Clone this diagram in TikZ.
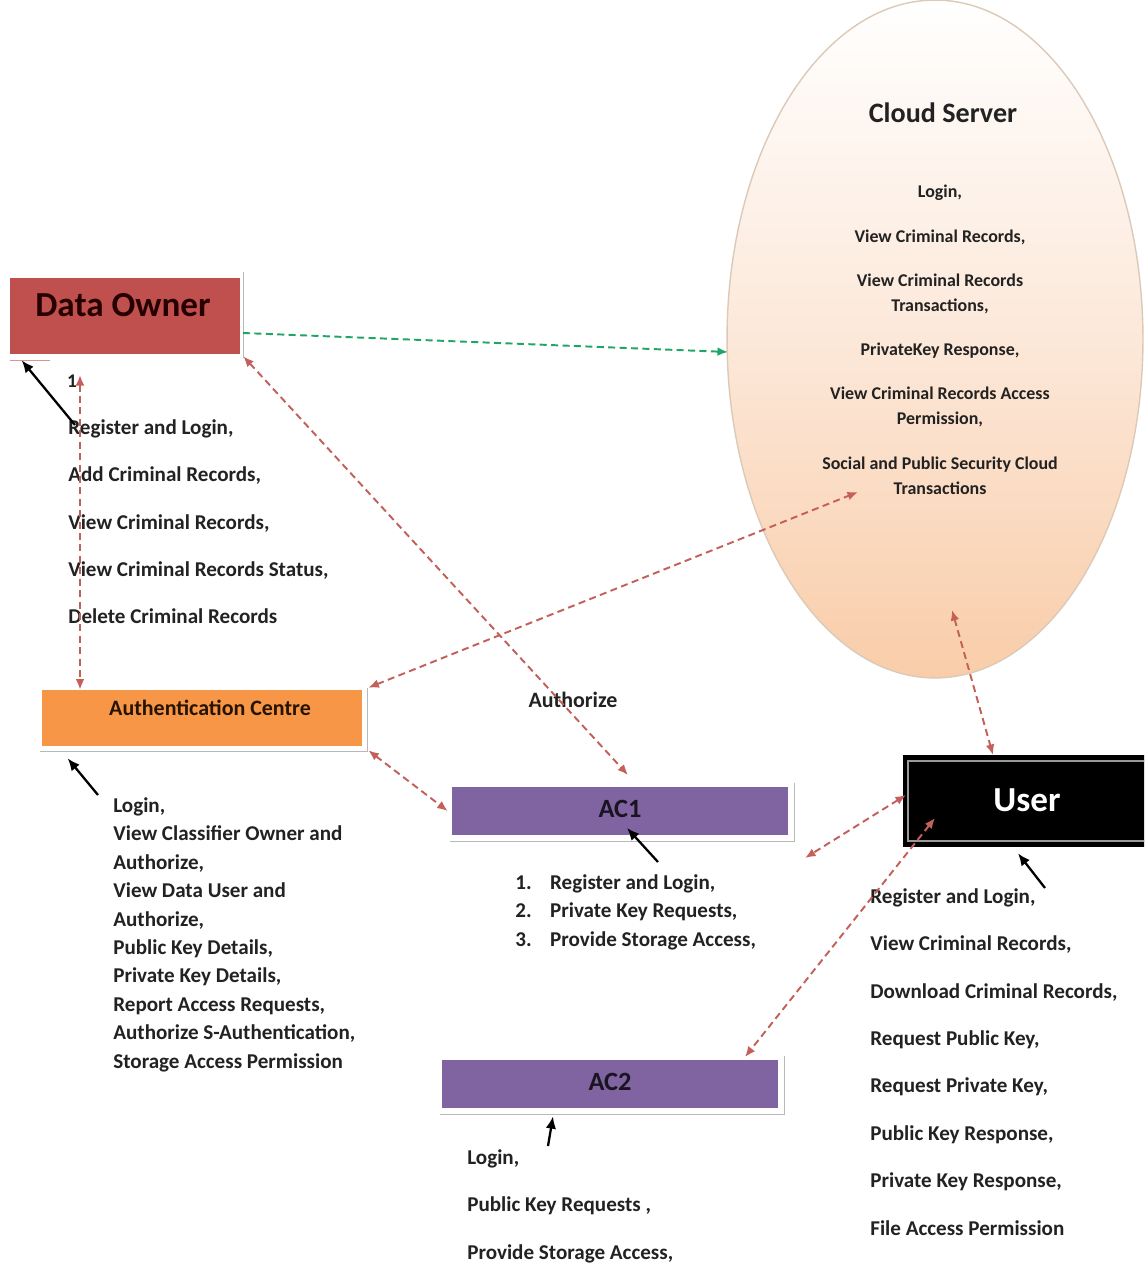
\documentclass[tikz,border=0pt]{standalone}
\usepackage{fontspec}
\setmainfont{Carlito}
\usetikzlibrary{arrows.meta,shapes.geometric,calc}

\definecolor{ownerred}{HTML}{C0504D}
\definecolor{authorange}{HTML}{F79646}
\definecolor{acpurple}{HTML}{8064A2}
\definecolor{linkred}{HTML}{C4605A}
\definecolor{flowgreen}{HTML}{1FA565}
\definecolor{cloudtop}{HTML}{FFFFFF}
\definecolor{cloudmid}{HTML}{FCE8D9}
\definecolor{cloudbot}{HTML}{F9CDA9}
\definecolor{cloudedge}{HTML}{DCCAB8}
\definecolor{shadowgray}{HTML}{B8B8B8}
\definecolor{textdark}{HTML}{222222}

\tikzset{
  box/.style={rectangle, inner sep=0pt, draw=none},
  title/.style={inner sep=0pt, font=\bfseries},
  list/.style={anchor=north west, inner sep=0pt, align=left, text=textdark,
    font=\bfseries\fontsize{12}{27}\selectfont},
  link/.style={draw=linkred, line width=1.1pt, dash pattern=on 4pt off 2.5pt,
    {Latex[length=6pt,width=5pt]}-{Latex[length=6pt,width=5pt]}},
  flow/.style={draw=flowgreen, line width=1.1pt, dash pattern=on 4pt off 2.5pt,
    -{Latex[length=6pt,width=5pt]}},
  pointer/.style={draw=black, line width=1.3pt, -{Latex[length=7pt,width=6pt]}},
  shadowline/.style={draw=shadowgray, line width=0.9pt},
}

\begin{document}
\begin{tikzpicture}[x=0.02cm,y=-0.02cm]
\useasboundingbox (0,0) rectangle (1144,1264);
\fill[white] (0,0) rectangle (1144,1264);
\clip (0,0) rectangle (1144,1264);

% ---------- cloud server ----------
\node[ellipse, draw=cloudedge, line width=0.8pt, top color=cloudtop, bottom color=cloudbot,
      middle color=cloudmid, minimum width=8.32cm, minimum height=13.56cm, inner sep=0pt]
      (cloud) at (935,339) {};
\node[title, font=\bfseries\fontsize{16}{18}\selectfont, text=textdark] (cloudtitle) at (943,113) {Cloud Server};
\node[anchor=north, inner sep=0pt, align=center, text=textdark,
      font=\bfseries\fontsize{10.2}{14.2}\selectfont] (cloudlist) at (940,185)
  {Login,\\[11pt]
   View Criminal Records,\\[11pt]
   View Criminal Records\\ Transactions,\\[11pt]
   PrivateKey Response,\\[11pt]
   View Criminal Records Access\\ Permission,\\[11pt]
   Social and Public Security Cloud\\ Transactions};

% ---------- data owner ----------
\node[box, fill=ownerred, minimum width=4.6cm, minimum height=1.52cm] (owner) at (125,316) {};
\node[title, font=\bfseries\fontsize{20}{22}\selectfont, text=black!85!red] (ownertitle) at (123,305) {Data Owner};
\draw[shadowline] ($(owner.north east)+(3,-6)$) -- ($(owner.south east)+(3,4)$);
\draw[shadowline, draw=ownerred!60] ($(owner.south west)+(0,6)$) -- ++(40,0);
\node[list] (ownerlist) at (68,419)
  {Register and Login,\\
   Add Criminal Records,\\
   View Criminal Records,\\
   View Criminal Records Status,\\
   Delete Criminal Records};
\node[inner sep=0pt, text=textdark, font=\bfseries\fontsize{11}{13}\selectfont] (onelabel) at (72,381) {1};

% ---------- authentication centre ----------
\node[box, fill=authorange, minimum width=6.4cm, minimum height=1.12cm] (auth) at (202,718) {};
\node[title, font=\bfseries\fontsize{12.5}{15}\selectfont, text=black!85!orange] (authtitle) at (210,708) {Authentication Centre};
\draw[shadowline] ($(auth.north east)+(5,-2)$) |- ($(auth.south west)+(-2,5)$);
\node[list, font=\bfseries\fontsize{12}{16.2}\selectfont] (authlist) at (113,797)
  {Login,\\
   View Classifier Owner and\\
   Authorize,\\
   View Data User and\\
   Authorize,\\
   Public Key Details,\\
   Private Key Details,\\
   Report Access Requests,\\
   Authorize S-Authentication,\\
   Storage Access Permission};

% ---------- AC1 ----------
\node[box, fill=acpurple, minimum width=6.72cm, minimum height=0.96cm] (acone) at (620,811) {};
\node[title, font=\bfseries\fontsize{15}{17}\selectfont, text=black!80!acpurple] (aconetitle) at (620,809) {AC1};
\draw[shadowline] ($(acone.north east)+(6,-4)$) |- ($(acone.south west)+(-2,6)$);
\node[list, font=\bfseries\fontsize{12}{16.4}\selectfont] (aconelist) at (515,874)
  {\makebox[19.8pt][l]{1.}Register and Login,\\
   \makebox[19.8pt][l]{2.}Private Key Requests,\\
   \makebox[19.8pt][l]{3.}Provide Storage Access,};
\node[inner sep=0pt, text=textdark, font=\bfseries\fontsize{12.5}{15}\selectfont] (authorize) at (573,700) {Authorize};

% ---------- AC2 ----------
\node[box, fill=acpurple, minimum width=6.72cm, minimum height=0.96cm] (actwo) at (610,1084) {};
\node[title, font=\bfseries\fontsize{15}{17}\selectfont, text=black!80!acpurple] (actwotitle) at (610,1082) {AC2};
\draw[shadowline] ($(actwo.north east)+(6,-4)$) |- ($(actwo.south west)+(-2,6)$);
\node[list] (actwolist) at (467,1149)
  {Login,\\
   Public Key Requests ,\\
   Provide Storage Access,};

% ---------- user ----------
\node[box, fill=black, minimum width=4.98cm, minimum height=1.84cm] (user) at (1027,801) {};
\draw[draw=gray!80, line width=1pt] ($(user.north west)+(6,6)$) rectangle ($(user.south east)+(-6,-6)$);
\node[title, font=\bfseries\fontsize{20}{22}\selectfont, text=white] (usertitle) at (1027,800) {User};
\node[list] (userlist) at (870,888)
  {Register and Login,\\
   View Criminal Records,\\
   Download Criminal Records,\\
   Request Public Key,\\
   Request Private Key,\\
   Public Key Response,\\
   Private Key Response,\\
   File Access Permission};

% ---------- connector end points ----------
\coordinate (ownerdown) at (80,375);
\coordinate (ownergreen) at (243,333);
\coordinate (cloudleft) at (728,352);
\coordinate (cloudlow) at (858,492);
\coordinate (cloudbottom) at (952,610);
\coordinate (useratop) at (993,755);
\coordinate (aconeabove) at (628,775);
\coordinate (userleft) at (906,795);
\coordinate (userout) at (805,858);
\coordinate (userinner) at (935,818);
\coordinate (actwocorner) at (745,1057);

% ---------- dashed connectors ----------
\draw[flow] (ownergreen) -- (cloudleft);
\draw[link] (ownerdown) -- (ownerdown |- auth.north);
\draw[link] ($(owner.south east)+(3,2)$) -- (aconeabove);
\draw[link] ($(auth.north east)+(6,-2)$) -- (cloudlow);
\draw[link] ($(auth.south east)+(6,4)$) -- ($(acone.west)+(-4,0)$);
\draw[link] (cloudbottom) -- (useratop);
\draw[link] (userleft) -- (userout);
\draw[link] (userinner) -- (actwocorner);

% ---------- pointers from the lists ----------
\coordinate (ownerptr) at (75,425);
\coordinate (authptr) at (98,795);
\coordinate (aconeptr) at (658,862);
\coordinate (userptr) at (1045,888);
\coordinate (actwoptr) at (548,1146);
\draw[pointer] (ownerptr) -- ($(owner.south west)+(12,6)$);
\draw[pointer] (authptr) -- ($(auth.south west)+(26,12)$);
\draw[pointer] (aconeptr) -- ($(acone.center)+(7,17)$);
\draw[pointer] (userptr) -- ($(user.south)+(-9,6)$);
\draw[pointer] (actwoptr) -- ($(actwo.south)+(-57,8)$);
\end{tikzpicture}
\end{document}
